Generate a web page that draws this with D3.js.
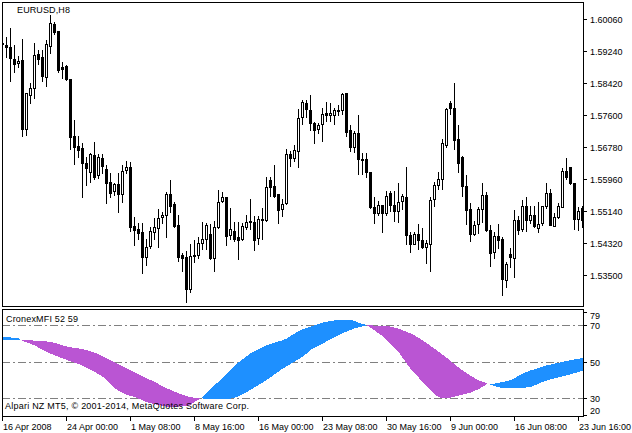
<!DOCTYPE html>
<html><head><meta charset="utf-8">
<script src="https://cdn.jsdelivr.net/npm/d3@7"></script>
<style>
body{margin:0;background:#fff}
svg{display:block}
text{font-family:'Liberation Sans',Arial,sans-serif;font-size:9px;fill:#000}
</style>
</head><body>
<svg id="c" width="632" height="433"></svg>
<script>
// ---------------- data ----------------
const symbolTitle = "EURUSD,H8";
const indicatorTitle = "CronexMFI 52 59";
const copyrightText = "Alpari NZ MT5, \u00A9 2001-2014, MetaQuotes Software Corp.";
const firstBarTime = new Date(2008, 3, 16, 16, 0); // H8 bars, weekdays

const openP = [1.5944,1.5939,1.5933,1.5904,1.5892,1.5901,1.5723,1.5810,1.5828,1.5916,
 1.5909,1.5857,1.5938,1.5993,1.5975,1.5883,1.5886,1.5852,1.5706,1.5681,
 1.5675,1.5636,1.5613,1.5658,1.5605,1.5650,1.5622,1.5588,1.5564,1.5584,
 1.5557,1.5618,1.5627,1.5476,1.5468,1.5460,1.5397,1.5425,1.5459,1.5471,
 1.5498,1.5505,1.5558,1.5531,1.5477,1.5400,1.5396,1.5315,1.5401,1.5402,
 1.5433,1.5443,1.5454,1.5393,1.5474,1.5539,1.5550,1.5453,1.5463,1.5448,
 1.5441,1.5474,1.5485,1.5486,1.5444,1.5494,1.5490,1.5593,1.5579,1.5557,
 1.5518,1.5534,1.5660,1.5650,1.5668,1.5754,1.5791,1.5773,1.5740,1.5723,
 1.5736,1.5764,1.5761,1.5759,1.5769,1.5772,1.5816,1.5722,1.5677,1.5714,
 1.5647,1.5647,1.5614,1.5525,1.5510,1.5529,1.5510,1.5560,1.5529,1.5513,
 1.5539,1.5550,1.5452,1.5430,1.5456,1.5440,1.5423,1.5429,1.5544,1.5580,
 1.5595,1.5684,1.5791,1.5777,1.5698,1.5653,1.5578,1.5518,1.5454,1.5480,
 1.5518,1.5554,1.5466,1.5408,1.5449,1.5442,1.5337,1.5403,1.5393,1.5490,
 1.5467,1.5527,1.5490,1.5503,1.5471,1.5482,1.5526,1.5560,1.5476,1.5499,
 1.5524,1.5617,1.5627,1.5586,1.5494,1.5522];
const highP = [1.5945,1.5959,1.5982,1.5939,1.5910,1.5954,1.5817,1.5841,1.5945,1.5927,
 1.5927,1.5951,1.6016,1.5998,1.5976,1.5897,1.5888,1.5853,1.5747,1.5705,
 1.5687,1.5653,1.5662,1.5690,1.5660,1.5659,1.5633,1.5611,1.5587,1.5611,
 1.5633,1.5642,1.5639,1.5498,1.5482,1.5482,1.5441,1.5474,1.5497,1.5518,
 1.5512,1.5563,1.5593,1.5537,1.5503,1.5407,1.5412,1.5429,1.5440,1.5448,
 1.5487,1.5484,1.5481,1.5488,1.5567,1.5563,1.5551,1.5521,1.5485,1.5487,
 1.5482,1.5504,1.5544,1.5501,1.5500,1.5521,1.5602,1.5602,1.5631,1.5558,
 1.5544,1.5673,1.5669,1.5682,1.5775,1.5798,1.5798,1.5811,1.5742,1.5740,
 1.5777,1.5793,1.5792,1.5777,1.5786,1.5816,1.5817,1.5734,1.5720,1.5760,
 1.5662,1.5663,1.5615,1.5550,1.5540,1.5529,1.5565,1.5565,1.5564,1.5586,
 1.5557,1.5628,1.5460,1.5459,1.5480,1.5471,1.5440,1.5551,1.5589,1.5613,
 1.5699,1.5778,1.5796,1.5842,1.5734,1.5655,1.5606,1.5535,1.5488,1.5525,
 1.5585,1.5563,1.5477,1.5460,1.5481,1.5448,1.5384,1.5420,1.5517,1.5502,
 1.5541,1.5550,1.5527,1.5527,1.5537,1.5528,1.5586,1.5570,1.5508,1.5535,
 1.5623,1.5650,1.5627,1.5586,1.5524,1.5528];
const lowP = [1.5941,1.5908,1.5846,1.5869,1.5884,1.5707,1.5710,1.5792,1.5803,1.5891,
 1.5847,1.5834,1.5918,1.5967,1.5871,1.5854,1.5850,1.5673,1.5634,1.5652,
 1.5551,1.5581,1.5589,1.5596,1.5598,1.5612,1.5535,1.5551,1.5555,1.5512,
 1.5536,1.5611,1.5464,1.5426,1.5441,1.5356,1.5375,1.5418,1.5442,1.5423,
 1.5484,1.5448,1.5512,1.5474,1.5386,1.5361,1.5282,1.5307,1.5384,1.5393,
 1.5416,1.5417,1.5392,1.5360,1.5470,1.5537,1.5428,1.5442,1.5436,1.5392,
 1.5439,1.5467,1.5469,1.5415,1.5430,1.5441,1.5488,1.5552,1.5551,1.5484,
 1.5500,1.5532,1.5630,1.5641,1.5628,1.5737,1.5756,1.5722,1.5689,1.5713,
 1.5694,1.5745,1.5745,1.5737,1.5760,1.5763,1.5705,1.5669,1.5664,1.5608,
 1.5608,1.5602,1.5521,1.5482,1.5504,1.5459,1.5504,1.5515,1.5489,1.5485,
 1.5518,1.5430,1.5408,1.5429,1.5416,1.5418,1.5380,1.5361,1.5528,1.5570,
 1.5570,1.5679,1.5763,1.5674,1.5614,1.5553,1.5480,1.5437,1.5453,1.5457,
 1.5486,1.5464,1.5374,1.5394,1.5419,1.5300,1.5320,1.5370,1.5344,1.5455,
 1.5463,1.5464,1.5484,1.5472,1.5460,1.5478,1.5521,1.5477,1.5476,1.5495,
 1.5523,1.5596,1.5583,1.5468,1.5465,1.5474];
const closeP = [1.5943,1.5933,1.5905,1.5890,1.5898,1.5723,1.5816,1.5828,1.5914,1.5904,
 1.5859,1.5942,1.5995,1.5972,1.5876,1.5879,1.5851,1.5703,1.5679,1.5671,
 1.5637,1.5625,1.5660,1.5602,1.5652,1.5630,1.5585,1.5561,1.5583,1.5558,
 1.5617,1.5627,1.5474,1.5465,1.5458,1.5395,1.5421,1.5463,1.5473,1.5495,
 1.5503,1.5557,1.5528,1.5476,1.5397,1.5393,1.5315,1.5399,1.5398,1.5433,
 1.5443,1.5477,1.5393,1.5472,1.5537,1.5549,1.5449,1.5467,1.5443,1.5439,
 1.5475,1.5485,1.5489,1.5439,1.5494,1.5491,1.5575,1.5576,1.5553,1.5516,
 1.5532,1.5659,1.5651,1.5670,1.5752,1.5794,1.5775,1.5739,1.5721,1.5734,
 1.5762,1.5759,1.5764,1.5773,1.5773,1.5814,1.5717,1.5677,1.5715,1.5646,
 1.5644,1.5613,1.5525,1.5508,1.5529,1.5508,1.5552,1.5529,1.5513,1.5537,
 1.5552,1.5452,1.5430,1.5455,1.5439,1.5423,1.5432,1.5543,1.5581,1.5596,
 1.5688,1.5776,1.5777,1.5696,1.5638,1.5578,1.5517,1.5454,1.5477,1.5520,
 1.5554,1.5466,1.5406,1.5450,1.5439,1.5339,1.5378,1.5395,1.5491,1.5465,
 1.5527,1.5491,1.5503,1.5476,1.5481,1.5527,1.5560,1.5478,1.5499,1.5526,
 1.5617,1.5602,1.5585,1.5494,1.5513,1.5491];

const mfiFast = [63.4,63.3,63.2,63.0,62.7,61.2,60.6,59.8,58.9,57.7,
 56.4,55.3,54.4,53.5,52.6,51.8,51.0,50.2,49.4,48.7,
 47.8,46.8,45.6,44.4,43.2,41.8,40.0,37.8,35.6,34.2,
 33.0,32.0,31.3,30.7,29.8,28.9,28.0,27.3,26.8,26.3,
 25.9,25.5,25.4,25.4,25.5,25.6,25.8,26.6,27.9,29.3,
 30.8,32.9,35.0,37.1,39.1,41.2,43.4,45.5,47.7,49.6,
 51.3,52.9,54.6,55.7,56.8,57.9,59.0,59.7,60.4,61.0,
 61.6,62.6,64.0,65.3,66.6,67.6,68.4,69.1,69.8,70.5,
 71.3,71.8,72.2,72.5,72.8,73.0,73.0,72.8,72.2,71.3,
 70.6,70.0,68.6,67.0,65.5,64.0,61.7,59.5,57.6,55.5,
 52.2,49.1,46.2,43.9,41.4,38.8,36.6,34.4,32.2,30.7,
 30.1,30.1,30.4,30.9,31.5,32.0,32.6,33.1,34.1,35.0,
 36.3,37.6,37.6,38.0,38.4,38.9,39.4,40.0,41.0,42.2,
 43.3,44.4,45.2,45.8,46.5,47.2,47.9,48.4,48.9,49.4,
 49.9,50.3,50.8,51.2,51.6,52.0];
const mfiSlow = [61.6,61.6,61.7,61.7,61.8,61.8,61.7,61.6,61.5,61.4,
 61.2,61.0,60.7,60.3,59.6,58.9,58.3,57.9,57.5,57.2,
 56.8,56.4,55.7,54.9,54.0,53.0,51.9,50.8,49.8,48.7,
 47.6,46.5,45.3,44.3,43.2,42.1,41.0,40.0,38.9,37.8,
 36.6,35.5,34.6,33.7,32.8,31.9,31.2,30.7,30.3,30.0,
 29.9,29.8,29.8,29.8,29.8,29.8,29.8,29.8,30.2,31.2,
 32.3,33.4,34.6,35.9,37.2,38.6,39.9,41.5,43.0,44.6,
 46.1,47.5,48.7,50.0,51.3,52.7,54.4,56.5,57.6,58.8,
 59.7,61.0,62.1,63.3,64.5,65.5,66.4,67.3,68.1,68.8,
 69.3,69.8,69.8,69.7,69.7,69.6,69.5,69.1,68.6,68.0,
 67.1,66.3,65.4,64.3,63.0,61.6,60.2,58.6,57.1,55.5,
 53.9,52.2,50.4,48.6,46.9,45.3,43.7,42.4,41.0,39.8,
 39.1,38.3,37.3,36.7,36.1,35.6,35.5,35.5,35.5,35.6,
 35.8,35.9,36.1,37.0,38.0,38.9,39.7,40.3,40.8,41.4,
 41.9,42.5,43.1,43.7,44.4,45.1];

const priceTicks = [1.53500,1.54320,1.55140,1.55960,1.56780,1.57600,1.58420,1.59240,1.60060];
const mfiTicks = [79,70,50,30,20];
const mfiLevels = [70,50,30];
const timeTickLabels = ["16 Apr 2008","24 Apr 00:00","1 May 08:00","8 May 16:00","16 May 00:00",
 "23 May 08:00","30 May 16:00","9 Jun 00:00","16 Jun 08:00","23 Jun 16:00"];

// bar times (H8, Mon-Fri)
const barTimes = [];
{ let t = new Date(firstBarTime);
  while (barTimes.length < openP.length) {
    const wd = t.getDay();
    if (wd !== 0 && wd !== 6) barTimes.push(new Date(t));
    t = new Date(t.getTime() + 8*3600*1000);
  } }
const fmt = d3.timeFormat("%-d %b %H:%M");
const cats = barTimes.map(d => fmt(d));

// ---------------- layout ----------------
const svg = d3.select("#c");
const L = 2, R = 583, mainT = 2, mainB = 306, indT = 309, indB = 416;

const x = d3.scaleBand().domain(cats).range([0, cats.length*4]).padding(0);
const yP = d3.scaleLinear().domain([1.53500, 1.60060]).range([275, 19]);
const yM = d3.scaleLinear().domain([30, 70]).range([398.3, 325]);

const defs = svg.append("defs");
defs.append("clipPath").attr("id","clipMain").append("rect")
  .attr("x", L+1).attr("y", mainT+1).attr("width", R-L-1).attr("height", mainB-mainT-1);
defs.append("clipPath").attr("id","clipInd").append("rect")
  .attr("x", L+1).attr("y", indT+1).attr("width", R-L-1).attr("height", indB-indT-1);

// ---------------- candles ----------------
const bars = openP.map((o,i)=>({c:cats[i], o, h:highP[i], l:lowP[i], cl:closeP[i]}));
const gC = svg.append("g").attr("clip-path","url(#clipMain)").attr("shape-rendering","crispEdges");
const r = v => Math.round(v);
bars.forEach(b=>{
  const left = x(b.c);
  const yh = r(yP(b.h)), yl = r(yP(b.l));
  gC.append("rect").attr("x", left+2).attr("y", yh).attr("width",1).attr("height", Math.max(1, yl-yh+1)).attr("fill","#000");
  const yt = r(yP(Math.max(b.o,b.cl))), yb = r(yP(Math.min(b.o,b.cl)));
  if (b.cl < b.o) {
    gC.append("rect").attr("x", left+1).attr("y", yt).attr("width",3).attr("height", Math.max(1,yb-yt+1)).attr("fill","#000");
  } else if (yb - yt >= 2) {
    gC.append("rect").attr("x", left+1.5).attr("y", yt+0.5).attr("width",2).attr("height", yb-yt)
      .attr("fill","#fff").attr("stroke","#000").attr("stroke-width",1);
  } else {
    gC.append("rect").attr("x", left+1).attr("y", yt).attr("width",3).attr("height", Math.max(1,yb-yt+1)).attr("fill","#000");
  }
});

// ---------------- indicator fill ----------------
const gI = svg.append("g").attr("clip-path","url(#clipInd)");
mfiLevels.forEach(v=>{
  const yy = r(yM(v))+0.5;
  gI.append("line").attr("x1", L).attr("x2", R).attr("y1", yy).attr("y2", yy)
    .attr("stroke","#808080").attr("stroke-width",1).attr("stroke-dasharray","8,3,2,3")
    .attr("shape-rendering","crispEdges");
});
const pts = [];
for (let i=0;i<mfiFast.length;i++){
  const xc = x(cats[i]) + 2.5;
  pts.push({x:xc, f:mfiFast[i], s:mfiSlow[i]});
  if (i < mfiFast.length-1){
    const d0 = mfiFast[i]-mfiSlow[i], d1 = mfiFast[i+1]-mfiSlow[i+1];
    if ((d0>0) !== (d1>0) && d0 !== d1){
      const t = d0/(d0-d1);
      const v = mfiFast[i] + t*(mfiFast[i+1]-mfiFast[i]);
      pts.push({x: xc + t*4, f:v, s:v, cross:true});
    }
  }
}
const runs = [];
let cur = null, pending = null;
pts.forEach(p=>{
  if (p.cross){ if(cur){cur.pts.push(p);} cur = null; pending = p; return; }
  const up = p.f >= p.s;
  if (!cur){ cur = {up, pts: pending ? [pending] : []}; runs.push(cur); pending=null; }
  cur.pts.push(p);
});
const area = d3.area().x(d=>d.x).y0(d=>yM(d.s)).y1(d=>yM(d.f));
runs.forEach(run=>{
  gI.append("path").attr("d", area(run.pts))
    .attr("fill", run.up ? "#1E90FF" : "#BA55D3").attr("shape-rendering","crispEdges");
});

// ---------------- frames ----------------
const gF = svg.append("g").attr("shape-rendering","crispEdges").attr("fill","none").attr("stroke","#000");
gF.append("rect").attr("x", L+0.5).attr("y", mainT+0.5).attr("width", R-L).attr("height", mainB-mainT);
gF.append("rect").attr("x", L+0.5).attr("y", indT+0.5).attr("width", R-L).attr("height", indB-indT);

// ---------------- price axis ----------------
const gA = svg.append("g");
priceTicks.forEach(p=>{
  const yy = r(yP(p));
  gA.append("line").attr("x1", R+1).attr("x2", R+4).attr("y1", yy+0.5).attr("y2", yy+0.5)
    .attr("stroke","#000").attr("shape-rendering","crispEdges");
  gA.append("text").attr("x", R+7).attr("y", yy+3.7).text(d3.format(".5f")(p));
});
mfiTicks.forEach(v=>{
  let yy = r(yM(v));
  let ly = yy;
  if (v === 79) { yy = indT+3; ly = indT+6; }
  if (v === 20) { yy = indB-1; ly = indB-6; }
  gA.append("line").attr("x1", R+1).attr("x2", R+4).attr("y1", yy+0.5).attr("y2", yy+0.5)
    .attr("stroke","#000").attr("shape-rendering","crispEdges");
  gA.append("text").attr("x", R+7).attr("y", ly+3.7).text(v);
});

// ---------------- time axis ----------------
timeTickLabels.forEach((lab,k)=>{
  let idx = cats.indexOf(lab);
  if (idx < 0) idx = 0;
  const xx = x(cats[idx]) + 2;
  gA.append("line").attr("x1", xx+0.5).attr("x2", xx+0.5).attr("y1", indB+1).attr("y2", indB+5)
    .attr("stroke","#000").attr("shape-rendering","crispEdges");
  gA.append("text").attr("x", xx+1).attr("y", 429.5).text(lab);
});

// ---------------- titles ----------------
svg.append("text").attr("x", 17).attr("y", 13).attr("textLength", 53).attr("lengthAdjust","spacing").text(symbolTitle);
svg.append("text").attr("x", 6).attr("y", 322).attr("textLength", 72).attr("lengthAdjust","spacing").text(indicatorTitle);
svg.append("text").attr("x", 5).attr("y", 408.5).attr("textLength", 244).attr("lengthAdjust","spacing").text(copyrightText);
</script>
</body></html>
